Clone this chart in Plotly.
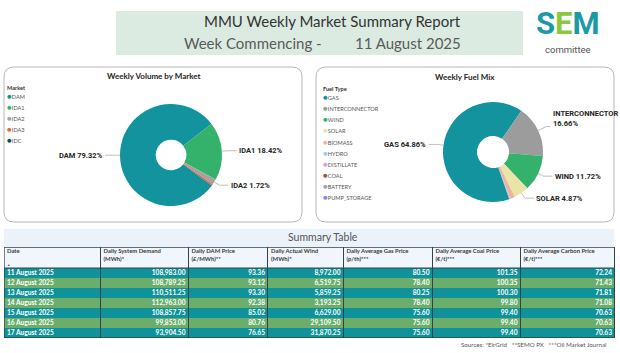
import math
import plotly.graph_objects as go

W, H = 620, 353

# ---------------- data ----------------
market_labels = ["DAM", "IDA1", "IDA2", "IDA3", "IDC"]
market_values = [79.32, 18.42, 1.72, 0.50, 0.04]
market_colors = ["#12939E", "#34B16B", "#A3A3A3", "#E8683A", "#0D4C50"]

fuel_labels = ["GAS", "INTERCONNECTOR", "WIND", "SOLAR", "BIOMASS", "HYDRO",
               "DISTILLATE", "COAL", "BATTERY", "PUMP_STORAGE"]
fuel_values = [64.86, 16.66, 11.72, 4.87, 1.58, 0.17, 0.02, 0.01, 0.07, 0.04]
fuel_colors = ["#12939E", "#9C9C9C", "#34B16B", "#E9E5A8", "#F0B49E", "#9FCCF2",
               "#C7A9D9", "#8C5A3C", "#9AA5B5", "#8F7FF2"]

dates = ["11 August 2025", "12 August 2025", "13 August 2025", "14 August 2025",
         "15 August 2025", "16 August 2025", "17 August 2025"]
system_demand = [108983.00, 108789.25, 110511.25, 112963.00, 108857.75, 99853.00, 93904.50]
dam_price = [93.36, 93.12, 93.30, 92.38, 85.02, 80.76, 76.65]
actual_wind = [8972.00, 6519.75, 5859.25, 3193.25, 6629.00, 29109.50, 31870.25]
gas_price = [80.50, 78.40, 80.25, 78.40, 75.60, 75.60, 75.60]
coal_price = [101.35, 100.35, 100.30, 99.80, 99.40, 99.40, 99.40]
carbon_price = [72.24, 71.43, 71.81, 71.08, 70.63, 70.63, 70.63]

column_headers = ["Date", "Daily System Demand<br>(MWh)*", "Daily DAM Price<br>(£/MWh)**",
                  "Daily Actual Wind<br>(MWh)*", "Daily Average Gas Price<br>(p/th)***",
                  "Daily Average Coal Price<br>(€/t)***", "Daily Average Carbon Price<br>(€/t)***"]

# ---------------- helpers ----------------
FONT = "Lato, 'Open Sans', sans-serif"
LBL_FONT = "Roboto, 'DejaVu Sans', sans-serif"


def X(px):
    return px / W


def Y(py):
    return 1 - py / H


fig = go.Figure()


def rrect(x0, y0, x1, y1, r):
    pts = [
        f"M {X(x0 + r)},{Y(y0)}", f"L {X(x1 - r)},{Y(y0)}",
        f"Q {X(x1)},{Y(y0)} {X(x1)},{Y(y0 + r)}", f"L {X(x1)},{Y(y1 - r)}",
        f"Q {X(x1)},{Y(y1)} {X(x1 - r)},{Y(y1)}", f"L {X(x0 + r)},{Y(y1)}",
        f"Q {X(x0)},{Y(y1)} {X(x0)},{Y(y1 - r)}", f"L {X(x0)},{Y(y0 + r)}",
        f"Q {X(x0)},{Y(y0)} {X(x0 + r)},{Y(y0)}", "Z"]
    return " ".join(pts)


def text(x, y, s, size, color="#333333", xanchor="center", family=FONT, align="left",
         yanchor="middle"):
    fig.add_annotation(x=X(x), y=Y(y), xref="paper", yref="paper", text=s,
                       showarrow=False, xanchor=xanchor, yanchor=yanchor, align=align,
                       font=dict(size=size, color=color, family=family), borderpad=0)


# ---------------- header ----------------
fig.add_shape(type="rect", xref="paper", yref="paper", x0=X(116), x1=X(523), y0=Y(55), y1=Y(11),
              fillcolor="#DCEBE2", line=dict(width=0), layer="below")
text(332, 21, "MMU Weekly Market Summary Report", 15, "#333333")
text(183, 43, "Week Commencing -", 15, "#5A5A5A", xanchor="left")
text(354, 43, "11 August 2025", 15, "#5A5A5A", xanchor="left")
text(568, 24, "<b><span style='color:#1B9AA5'>S</span><span style='color:#8DC63F'>E</span>"
              "<span style='color:#1B9AA5'>M</span></b>", 31, "#1B9AA5",
     family="Roboto, sans-serif")
text(568, 49.5, "committee", 9.5, "#555555", family="Roboto, sans-serif")

# ---------------- panels ----------------
for (x0, y0, x1, y1) in [(4, 67, 302, 222), (316, 67, 614, 222)]:
    fig.add_shape(type="path", xref="paper", yref="paper", path=rrect(x0, y0, x1, y1, 10),
                  line=dict(color="#B5B5B5", width=1), fillcolor="white", layer="below")

text(154, 76, "<b>Weekly Volume by Market</b>", 8, "#252423")
text(465, 77, "<b>Weekly Fuel Mix</b>", 8, "#252423")


def legend(title, labels, colors, x, y0, step):
    text(x, y0, f"<b>{title}</b>", 5.6, "#333333", xanchor="left")
    for i, (lab, col) in enumerate(zip(labels, colors)):
        text(x, y0 + 9 + i * step,
             f"<span style='color:{col};font-size:8px'>●</span>{lab}", 5.6, "#555555",
             xanchor="left")


legend("Market", market_labels, market_colors, 6, 87, 11)
legend("Fuel Type", fuel_labels, fuel_colors, 322, 88.5, 11)


# ---------------- pies ----------------
def add_pie(labels, values, colors, cx, cy, R, hole, rotation, min_pct):
    fig.add_trace(go.Pie(
        labels=labels, values=values, marker=dict(colors=colors, line=dict(width=0)),
        hole=hole, sort=False, direction="clockwise", rotation=rotation,
        textinfo="none", hoverinfo="label+percent", showlegend=False,
        domain=dict(x=[X(cx - R), X(cx + R)], y=[Y(cy + R), Y(cy - R)])))
    total = sum(values)
    cum = 0.0
    for lab, v in zip(labels, values):
        pct = 100.0 * v / total
        mid = rotation + 360.0 * (cum + v / 2.0) / total
        cum += v
        if pct < min_pct:
            continue
        a = math.radians(mid)
        ux, uy = math.sin(a), -math.cos(a)
        p = (cx + R * ux, cy + R * uy)
        two_line = len(lab) > 10
        rr = R + (9 if two_line else 6)
        q = (cx + rr * ux, cy + rr * uy)
        side = 1 if ux >= 0 else -1
        z = (q[0] + side * (4 if two_line else 9), q[1])
        fig.add_shape(type="path", xref="paper", yref="paper",
                      path=f"M {X(p[0])},{Y(p[1])} L {X(q[0])},{Y(q[1])} L {X(z[0])},{Y(z[1])}",
                      line=dict(color="#B0B0B0", width=0.8))
        s = f"{lab}<br>{pct:.2f}%" if two_line else f"{lab} {pct:.2f}%"
        text(z[0] + side * 1.5, z[1] + (2 if two_line else 0), f"<b>{s}</b>", 7.5, "#252423",
             xanchor="left" if side > 0 else "right", family=LBL_FONT,
             yanchor="bottom" if two_line else "middle")


add_pie(market_labels, market_values, market_colors, 171, 155, 51, 0.3, 127, 1.7)
add_pie(fuel_labels, fuel_values, fuel_colors, 493, 152, 50, 0.32, 161, 1.7)

# ---------------- summary table ----------------
fig.add_shape(type="rect", xref="paper", yref="paper", x0=X(4), x1=X(614), y0=Y(247), y1=Y(229),
              fillcolor="#EBF2FA", line=dict(width=0), layer="below")
text(323, 237, "Summary Table", 10.5, "#555555")
text(607, 344, "Sources: *EirGrid   **SEMO PX   ***Oil Market Journal", 6.2, "#555555",
     xanchor="right")

col_widths = [96.5, 88, 79.5, 75.5, 89, 88, 94.5]
x_edges = [0.0]
for w in col_widths:
    x_edges.append(x_edges[-1] + w)
HDR, ROW = 21, 10
n = len(dates)
y_edges = [0.0, HDR] + [HDR + ROW * (i + 1) for i in range(n)]
z = [[0] * len(col_widths)] + [[1 + (i % 2)] * len(col_widths) for i in range(n)]

fig.add_trace(go.Heatmap(
    x=x_edges, y=y_edges, z=z, zmin=0, zmax=2,
    colorscale=[[0, "#F1F6FC"], [0.5, "#10929B"], [1, "#6BAE6C"]],
    showscale=False, xgap=1, hoverinfo="skip", xaxis="x", yaxis="y"))

columns = [dates,
           [f"{v:,.2f}" for v in system_demand],
           [f"{v:,.2f}" for v in dam_price],
           [f"{v:,.2f}" for v in actual_wind],
           [f"{v:,.2f}" for v in gas_price],
           [f"{v:,.2f}" for v in coal_price],
           [f"{v:,.2f}" for v in carbon_price]]
row_y = [HDR + ROW * i + ROW / 2 for i in range(n)]
cell_font = dict(family=FONT, size=6.6, color="white")

fig.add_trace(go.Scatter(
    x=[x_edges[0] + 3] * n, y=row_y, mode="text", text=[f"<b>{d}</b>" for d in columns[0]],
    textposition="middle right", textfont=cell_font, hoverinfo="skip", showlegend=False,
    cliponaxis=False))
for j in range(1, len(columns)):
    fig.add_trace(go.Scatter(
        x=[x_edges[j + 1] - 3] * n, y=row_y, mode="text", text=[f"<b>{d}</b>" for d in columns[j]],
        textposition="middle left", textfont=cell_font, hoverinfo="skip", showlegend=False,
        cliponaxis=False))

fig.add_trace(go.Scatter(
    x=[x_edges[j] + 3 for j in range(len(column_headers))], y=[1.5] * len(column_headers),
    mode="text", text=[f"<b>{h}</b>" for h in column_headers], textposition="bottom right",
    textfont=dict(family=FONT, size=5.9, color="#3A3A3A"), hoverinfo="skip",
    showlegend=False, cliponaxis=False))
fig.add_trace(go.Scatter(
    x=[x_edges[0] + 3], y=[HDR - 2.5], mode="text", text=["▲"], textposition="middle right",
    textfont=dict(size=3.5, color="#555555"), hoverinfo="skip", showlegend=False,
    cliponaxis=False))

fig.add_shape(type="line", xref="x", yref="y", x0=0, x1=x_edges[-1], y0=HDR, y1=HDR,
              line=dict(color="#2D4552", width=1))
fig.add_shape(type="rect", xref="x", yref="y", x0=0, x1=x_edges[-1], y0=0, y1=y_edges[-1],
              line=dict(color="#2D4552", width=1.3))

fig.update_layout(
    width=W, height=H, autosize=False,
    margin=dict(l=0, r=0, t=0, b=0),
    paper_bgcolor="white", plot_bgcolor="#2D4552",
    xaxis=dict(domain=[X(4), X(615)], range=[0, x_edges[-1]], visible=False, fixedrange=True),
    yaxis=dict(domain=[Y(247 + y_edges[-1]), Y(247)], range=[y_edges[-1], 0], visible=False,
               fixedrange=True),
    showlegend=False,
)

fig.write_html("out.html")
